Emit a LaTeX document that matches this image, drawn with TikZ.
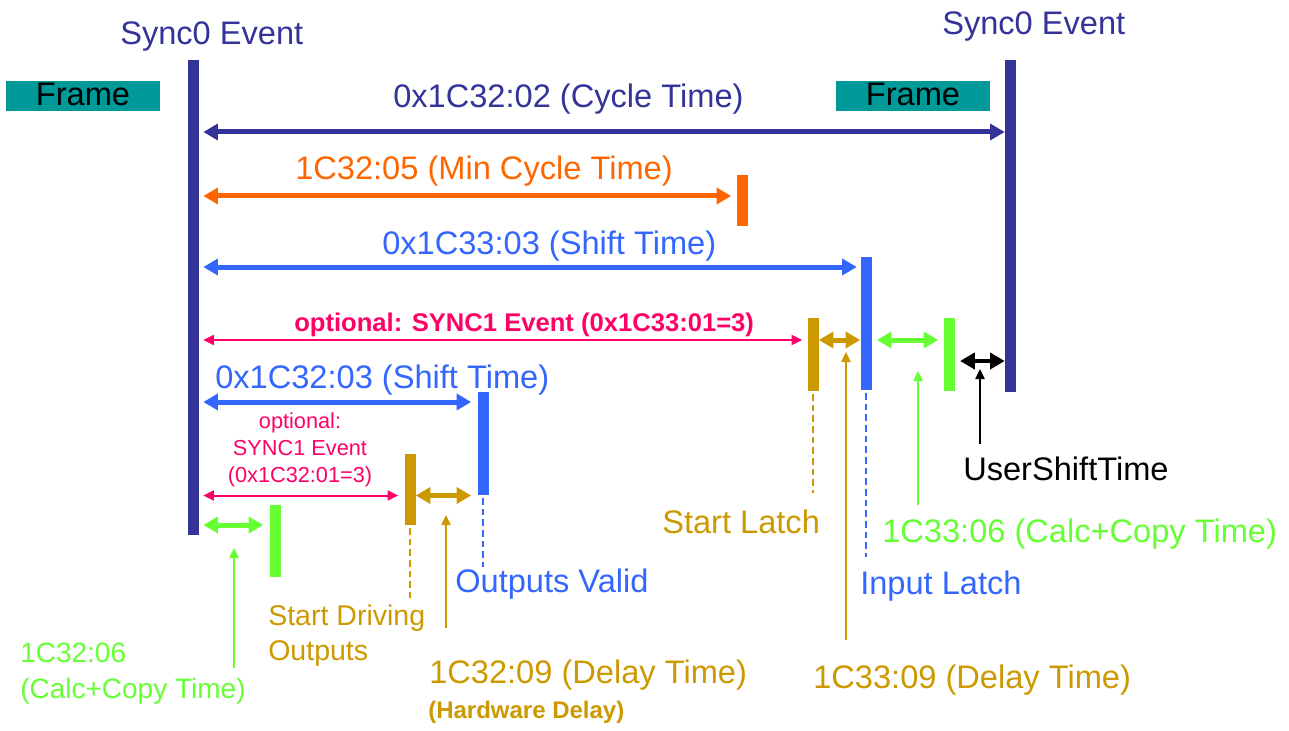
\documentclass[tikz,border=0pt]{standalone}
\usepackage{fontspec}
\setmainfont{Liberation Sans}
\usetikzlibrary{arrows.meta}
\definecolor{dkblue}{HTML}{333399}
\definecolor{orng}{HTML}{FF6600}
\definecolor{ltblue}{HTML}{3366FF}
\definecolor{pnk}{HTML}{FF0066}
\definecolor{gold}{HTML}{CC9900}
\definecolor{lgreen}{HTML}{66FF33}
\definecolor{framecol}{HTML}{009999}
\begin{document}
\begin{tikzpicture}[x=0.75pt,y=-0.75pt,
  bar/.style={fill=#1, draw=none, inner sep=0pt, minimum width=8.25pt},
  framebox/.style={fill=framecol, draw=none, inner sep=0pt, minimum width=115.5pt,
    text height=18.75pt, text depth=3.75pt, font=\fontsize{24.45}{26}\selectfont, text=black},
  dbl/.style={{Triangle[length=11pt,width=12pt]}-{Triangle[length=11pt,width=12pt]}, line width=3.75pt, draw=#1},
  thindbl/.style={{Triangle[length=8pt,width=7.5pt]}-{Triangle[length=8pt,width=7.5pt]}, line width=1.5pt, draw=#1},
  uparrow/.style={-{Triangle[length=7.5pt,width=7pt]}, line width=1pt, draw=#1},
  dashline/.style={line width=1.2pt, draw=#1, dash pattern=on 5pt off 3pt},
  lbl/.style={inner sep=0pt, anchor=base west, font=\fontsize{24.45}{26}\selectfont, text=#1},
  gapL/.style={shorten <=#1},
  gapR/.style={shorten >=#1}]
\useasboundingbox (0,0) rectangle (1289,731);

% ---- bars
\node[bar=dkblue, minimum height=356.25pt] (s0L) at (193,297.5) {};
\node[bar=dkblue, minimum height=249pt] (s0R) at (1010.5,226) {};
\node[bar=orng, minimum height=38.25pt] (minbar) at (742,200.5) {};
\node[bar=ltblue, minimum height=99.75pt] (ilbar) at (866,323.5) {};
\node[bar=gold, minimum height=54.75pt] (slbar) at (813,354.5) {};
\node[bar=lgreen, minimum height=54.75pt] (gcR) at (949,354.5) {};
\node[bar=ltblue, minimum height=77.25pt] (ovbar) at (483,443.5) {};
\node[bar=gold, minimum height=53.25pt] (sdbar) at (410,489.5) {};
\node[bar=lgreen, minimum height=54pt] (gcL) at (275,541) {};

% ---- frames
\node[framebox] (frL) at (83,96) {Frame};
\node[framebox] (frR) at (913,96) {Frame};

% ---- arrow levels
\coordinate (ycyc) at (0,132);
\coordinate (ymin) at (0,196);
\coordinate (ysh33) at (0,267);
\coordinate (yrow33) at (0,340);
\coordinate (yblk) at (0,361);
\coordinate (ysh32) at (0,402);
\coordinate (yrow32) at (0,495.5);
\coordinate (ygr32) at (0,525);

% ---- double arrows
\draw[dbl=dkblue, gapL=3.4pt] (s0L.east |- ycyc) -- (s0R.west |- ycyc);
\draw[dbl=orng, gapL=3.4pt, gapR=3.75pt] (s0L.east |- ymin) -- (minbar.west |- ymin);
\draw[dbl=ltblue, gapL=3.4pt, gapR=2.6pt] (s0L.east |- ysh33) -- (ilbar.west |- ysh33);
\draw[thindbl=pnk, gapL=3.4pt, gapR=3.75pt] (s0L.east |- yrow33) -- (slbar.west |- yrow33);
\draw[dbl=gold] (slbar.east |- yrow33) -- (ilbar.west |- yrow33);
\draw[dbl=lgreen, gapL=3.75pt, gapR=3.75pt] (ilbar.east |- yrow33) -- (gcR.west |- yrow33);
\draw[dbl=black, line width=3pt, gapL=4pt] (gcR.east |- yblk) -- (s0R.west |- yblk);
\draw[dbl=ltblue, gapL=3.4pt, gapR=4.5pt] (s0L.east |- ysh32) -- (ovbar.west |- ysh32);
\draw[thindbl=pnk, gapL=3.4pt, gapR=4.5pt] (s0L.east |- yrow32) -- (sdbar.west |- yrow32);
\draw[dbl=gold, gapR=4.5pt] (sdbar.east |- yrow32) -- (ovbar.west |- yrow32);
\draw[dbl=lgreen, gapL=3.4pt, gapR=4.5pt] (s0L.east |- ygr32) -- (gcL.west |- ygr32);

% ---- dashed guides
\coordinate (dsd) at (410,598);
\coordinate (dov) at (483,567);
\coordinate (dsl) at (813,493);
\coordinate (dil) at (866,557);
\draw[dashline=gold, shorten <=2pt] (sdbar.south) -- (dsd);
\draw[dashline=ltblue, shorten <=2pt] (ovbar.south) -- (dov);
\draw[dashline=gold, shorten <=2pt] (slbar.south) -- (dsl);
\draw[dashline=ltblue, shorten <=2pt] (ilbar.south) -- (dil);

% ---- pointer arrows
\coordinate (pgL0) at (234,668); \coordinate (pgL1) at (234,548);
\coordinate (pdL0) at (446,628); \coordinate (pdL1) at (446,515);
\coordinate (pdR0) at (846,640); \coordinate (pdR1) at (846,352);
\coordinate (pgR0) at (918,505); \coordinate (pgR1) at (918,371);
\coordinate (pbk0) at (980,444); \coordinate (pbk1) at (980,369);
\draw[uparrow=lgreen] (pgL0) -- (pgL1);
\draw[uparrow=gold] (pdL0) -- (pdL1);
\draw[uparrow=gold] (pdR0) -- (pdR1);
\draw[uparrow=lgreen] (pgR0) -- (pgR1);
\draw[uparrow=black] (pbk0) -- (pbk1);

% ---- labels
\node[lbl=dkblue] (tS0L) at (120,45) {Sync0 Event};
\node[lbl=dkblue] (tS0R) at (942,35) {Sync0 Event};
\node[lbl=dkblue] (tcyc) at (393,108) {0x1C32:02 (Cycle Time)};
\node[lbl=orng] (tmin) at (295,180) {1C32:05 (Min Cycle Time)};
\node[lbl=ltblue] (tsh33) at (382,254) {0x1C33:03 (Shift Time)};
\node[lbl=pnk, font=\fontsize{19.2}{21}\selectfont\bfseries] (tsy33) at (294,331) {optional: SYNC1 Event (0x1C33:01=3)};
\node[lbl=ltblue] (tsh32) at (215,388) {0x1C32:03 (Shift Time)};
\node[inner sep=0pt, anchor=base, text=pnk, font=\fontsize{16.3}{20.25}\selectfont] (tsy32) at (300,428)
  {\begin{tabular}[t]{@{}c@{}}optional:\\SYNC1 Event\\(0x1C32:01=3)\end{tabular}};
\node[lbl=gold, font=\fontsize{21.4}{26.25}\selectfont] (tsdo) at (268,625)
  {\begin{tabular}[t]{@{}l@{}}Start Driving\\Outputs\end{tabular}};
\node[lbl=lgreen, font=\fontsize{21}{27}\selectfont] (tcc32) at (20,662)
  {\begin{tabular}[t]{@{}l@{}}1C32:06\\(Calc+Copy Time)\end{tabular}};
\node[lbl=ltblue] (tov) at (455,592) {Outputs Valid};
\node[lbl=gold] (tdl32) at (429,683) {1C32:09 (Delay Time)};
\node[lbl=gold, font=\fontsize{18}{20}\selectfont\bfseries] (thw) at (428,718) {(Hardware Delay)};
\node[lbl=gold] (tsl) at (662,533) {Start Latch};
\node[lbl=lgreen] (tcc33) at (882,542) {1C33:06 (Calc+Copy Time)};
\node[lbl=ltblue] (til) at (860,594) {Input Latch};
\node[lbl=gold] (tdl33) at (813,688) {1C33:09 (Delay Time)};
\node[lbl=black] (tust) at (963,480) {UserShiftTime};
\end{tikzpicture}
\end{document}
